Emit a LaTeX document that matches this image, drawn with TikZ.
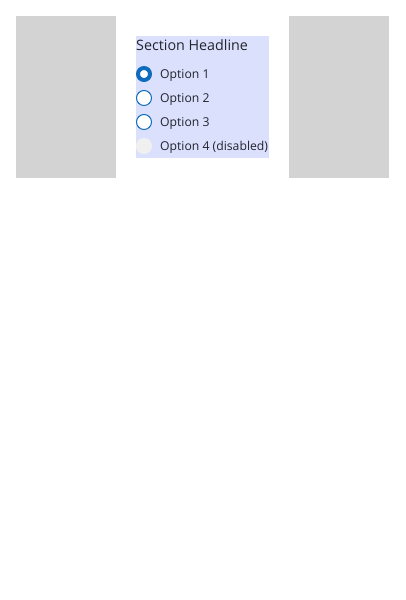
\documentclass[tikz,border=0pt]{standalone}
\usepackage{fontspec}
\setmainfont{Open Sans}
\definecolor{panelblue}{RGB}{219,224,253}
\definecolor{sidegray}{RGB}{211,211,211}
\definecolor{radioblue}{RGB}{15,108,189}
\definecolor{textdark}{RGB}{36,36,46}
\definecolor{offgray}{RGB}{240,240,240}
\tikzset{
  optlabel/.style={anchor=base west,inner sep=0pt,text=textdark,font=\fontsize{12.2}{14}\selectfont},
  radio/.style={draw=radioblue,fill=white,line width=1pt}
}
\begin{document}
\begin{tikzpicture}[x=1pt,y=-1pt]
\useasboundingbox[fill=white](0,0) rectangle (405,600);
\fill[sidegray](16,16) rectangle (116,178);
\fill[sidegray](289,16) rectangle (389,178);
\fill[panelblue](136,36) rectangle (269,158);
\node[optlabel,font=\fontsize{14.3}{16}\selectfont](headline) at (136,50){Section Headline};
% radio buttons
\draw[draw=radioblue,fill=white,line width=4pt](144,74) circle (6);
\draw[radio](144,98) circle (7.5);
\draw[radio](144,122) circle (7.5);
\fill[offgray](144,146) circle (8);
\node[optlabel](opt1) at (160,78.3){Option 1};
\node[optlabel](opt2) at (160,102.3){Option 2};
\node[optlabel](opt3) at (160,126.3){Option 3};
\node[optlabel](opt4) at (160,150.3){Option 4 (disabled)};
\end{tikzpicture}
\end{document}
